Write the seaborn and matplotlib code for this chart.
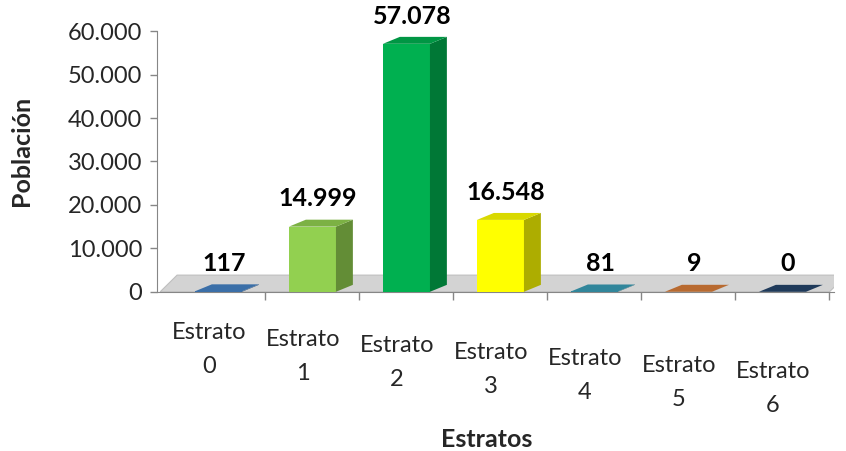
#Imports
import pandas as pd
import matplotlib
matplotlib.use("Agg")
import matplotlib.pyplot as plt
import matplotlib.colors as mcolors
from matplotlib.patches import Polygon
from matplotlib.ticker import FuncFormatter
import seaborn as sns

#Data
categorias = ["Estrato\n0", "Estrato\n1", "Estrato\n2", "Estrato\n3",
              "Estrato\n4", "Estrato\n5", "Estrato\n6"]
poblacion = [117, 14999, 57078, 16548, 81, 9, 0]
colores = ["#3B6FA8", "#92D050", "#00B050", "#FFFF00",
           "#31869B", "#B86A30", "#1F3A5A"]

df = pd.DataFrame({"Estrato": categorias, "Poblacion": poblacion})

sns.set_style("white")
plt.rcParams["font.family"] = ["Lato", "DejaVu Sans"]


def miles(v, pos=None):
    return f"{int(v):,}".replace(",", ".")


fig = plt.figure(figsize=(8.46, 4.51), dpi=100)
ax = fig.add_axes([0.186, 0.353, 0.80, 0.578])

sns.barplot(
    data=df, x="Estrato", y="Poblacion", hue="Estrato",
    palette=colores, width=0.5, legend=False, ax=ax,
    saturation=1, linewidth=0
)

#Pseudo 3D depth
dx, dy = 0.18, 1600
floor = Polygon(
    [(-0.62, 0), (6.5, 0), (6.5 + dx, dy * 2.4), (-0.62 + dx, dy * 2.4)],
    closed=True, facecolor="#D3D3D3", edgecolor="#BFBFBF",
    linewidth=0.8, zorder=0.5
)
ax.add_patch(floor)

for patch, color, val in zip(ax.patches[:len(poblacion)], colores, poblacion):
    x = patch.get_x()
    w = patch.get_width()
    h = patch.get_height()
    base = mcolors.to_rgb(color)
    side = tuple(c * 0.68 for c in base)
    top = tuple(c * 0.85 for c in base) if h > 1000 else base
    ax.add_patch(Polygon(
        [(x + w, 0), (x + w + dx, dy), (x + w + dx, h + dy), (x + w, h)],
        closed=True, facecolor=side, edgecolor="none", zorder=3
    ))
    ax.add_patch(Polygon(
        [(x, h), (x + dx, h + dy), (x + w + dx, h + dy), (x + w, h)],
        closed=True, facecolor=top, edgecolor="none", zorder=3
    ))
    patch.set_zorder(3)
    ax.text(
        x + w / 2 + dx / 3, h + dy + 4800, miles(val),
        ha="center", va="center", fontsize=18, fontweight="bold",
        color="black", clip_on=False
    )

ax.set_ylim(0, 60000)
ax.set_xlim(-0.65, 6.55)
ax.set_yticks(range(0, 60001, 10000))
ax.yaxis.set_major_formatter(FuncFormatter(miles))
ax.tick_params(axis="y", labelsize=17, length=5, width=1,
               color="#868686", left=True, pad=6)
ax.tick_params(axis="x", labelsize=17, length=0, pad=22)
ax.set_xticks([i - 0.1 for i in range(len(poblacion))])
ax.set_xticks([i + 0.5 for i in range(len(poblacion))], minor=True)
ax.tick_params(axis="x", which="minor", length=6, color="#868686",
               width=1, bottom=True)
ax.set_xticklabels(categorias, linespacing=1.75)
for i, lab in enumerate(ax.get_xticklabels()):
    lab.set_y(-0.025 * i)

ax.set_xlabel("Estratos", fontsize=18, fontweight="bold")
ax.set_ylabel("Población", fontsize=18, fontweight="bold")
ax.yaxis.set_label_coords(-0.2, 0.54)
ax.xaxis.set_label_coords(0.487, -0.567)
ax.xaxis.label.set_va("center")
ax.yaxis.label.set_va("center")

for s in ["top", "right"]:
    ax.spines[s].set_visible(False)
ax.spines["left"].set_color("#868686")
ax.spines["bottom"].set_color("#868686")

plt.savefig("out.png", dpi=100)
